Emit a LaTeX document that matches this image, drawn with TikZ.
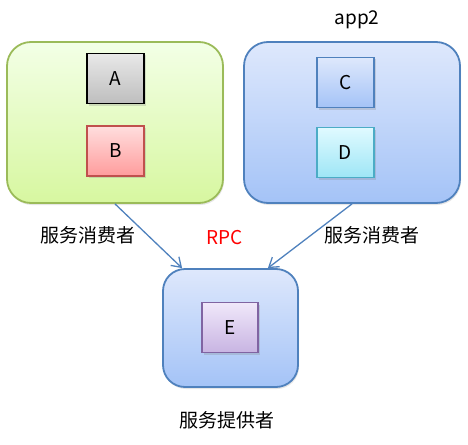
\documentclass[tikz,border=0pt]{standalone}
\usepackage{fontspec}
\setmainfont{Noto Sans CJK SC}
\usetikzlibrary{arrows.meta,shadows}
\definecolor{grnline}{HTML}{9BBB59}
\definecolor{bluline}{HTML}{4F81BD}
\definecolor{redline}{HTML}{C0504D}
\definecolor{cyaline}{HTML}{4BACC6}
\definecolor{purline}{HTML}{8064A2}
\begin{document}
\begin{tikzpicture}[x=1pt,y=-1pt,
  font=\fontsize{19}{22}\selectfont,
  appbox/.style={draw,line width=1.8pt,rounded corners=24pt,
    drop shadow={opacity=0.2,shadow xshift=1pt,shadow yshift=-2pt}},
  svcbox/.style={draw,line width=1.6pt,minimum width=57pt,minimum height=50pt,
    drop shadow={opacity=0.25,shadow xshift=1.5pt,shadow yshift=-2pt}},
  call/.style={bluline,line width=1.3pt,-{Straight Barb[length=9pt,width=12pt]}}]
\useasboundingbox (0,0) rectangle (468,444);
\node [appbox,grnline,top color=green!5!white!95!yellow,bottom color={rgb,255:red,215;green,247;blue,160},
  minimum width=216pt,minimum height=161pt] (app1) at (115,122.5) {};
\node [appbox,bluline,top color={rgb,255:red,222;green,232;blue,252},bottom color={rgb,255:red,164;green,195;blue,247},
  minimum width=216pt,minimum height=161pt] (app2) at (352,122.5) {};
\node [appbox,bluline,rounded corners=22pt,top color={rgb,255:red,222;green,232;blue,252},bottom color={rgb,255:red,164;green,195;blue,247},
  minimum width=135pt,minimum height=118pt] (prov) at (230.5,328) {};
\node at (357,20) (app2name) {app2};
\node [svcbox,black,text=black,top color={rgb,255:red,232;green,232;blue,232},bottom color={rgb,255:red,190;green,190;blue,190}] (A) at (115.5,78.5) {A};
\node [svcbox,redline,text=black,top color={rgb,255:red,255;green,222;blue,222},bottom color={rgb,255:red,255;green,156;blue,156}] (B) at (115.5,151) {B};
\node [svcbox,bluline,text=black,top color={rgb,255:red,222;green,232;blue,252},bottom color={rgb,255:red,164;green,195;blue,247}] (C) at (345.5,82.5) {C};
\node [svcbox,cyaline,text=black,top color={rgb,255:red,224;green,250;blue,255},bottom color={rgb,255:red,158;green,230;blue,246}] (D) at (345.5,152.5) {D};
\node [svcbox,purline,text=black,minimum width=56pt,top color={rgb,255:red,240;green,232;blue,250},bottom color={rgb,255:red,200;green,180;blue,226}] (E) at (230,327.5) {E};
\draw [call] (app1.south) -- ([xshift=20pt]prov.north west);
\draw [call] (app2.south) -- ([xshift=-31pt]prov.north east);
\node at (88,235) (cons1) {服务消费者};
\node [red] at (225,238) (rpc) {RPC};
\node at (372,235) (cons2) {服务消费者};
\node at (227,420) (provname) {服务提供者};
\end{tikzpicture}
\end{document}
